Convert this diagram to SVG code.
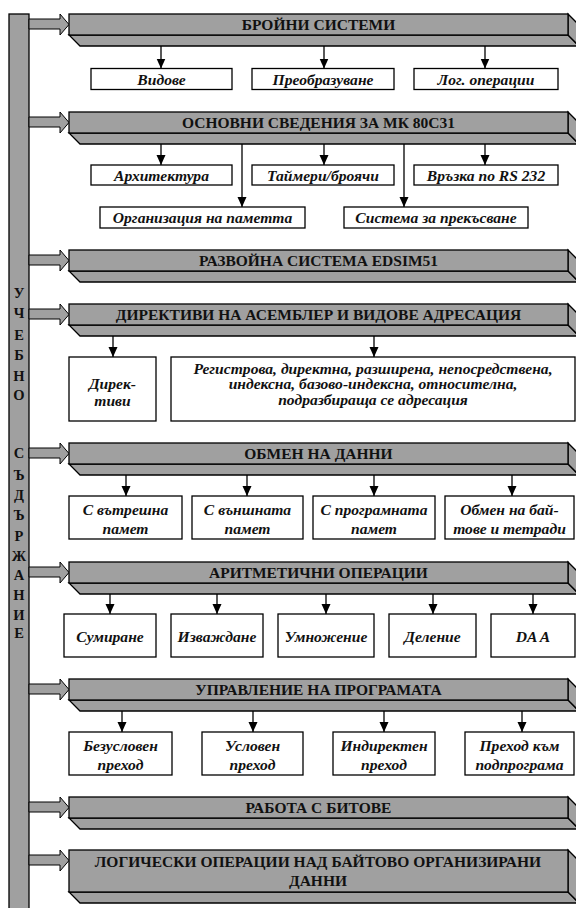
<svg xmlns="http://www.w3.org/2000/svg" width="576" height="908" viewBox="0 0 576 908">
<style>
.g{fill:#a0a0a0;stroke:#000;stroke-width:1.3;stroke-linejoin:miter}
.ba{fill:#a0a0a0;stroke:#000;stroke-width:1}
.bx{fill:#fff;stroke:#000;stroke-width:1.3}
.h{font-family:"Liberation Serif","Times New Roman",serif;font-weight:bold;font-size:15.5px;fill:#111;text-anchor:middle}
.t{font-family:"Liberation Serif","Times New Roman",serif;font-weight:bold;font-style:italic;font-size:15.6px;fill:#111;text-anchor:middle}
.v{font-family:"Liberation Serif","Times New Roman",serif;font-weight:bold;font-size:14.5px;fill:#111;text-anchor:middle}
.c{stroke:#000;stroke-width:1.3;fill:none;marker-end:url(#ah)}
</style>
<defs>
<marker id="ah" markerUnits="userSpaceOnUse" markerWidth="10" markerHeight="10" refX="10" refY="4.5" orient="auto" viewBox="0 0 10 9">
<path d="M0,0 L10,4.5 L0,9 z" fill="#000"/>
</marker>
</defs>
<rect width="576" height="908" fill="#fff"/>

<g id="side">
<rect class="g" x="9" y="14" width="20" height="900"/>
<text class="v" x="19" y="298">У</text>
<text class="v" x="19" y="318">Ч</text>
<text class="v" x="19" y="340">Е</text>
<text class="v" x="19" y="360">Б</text>
<text class="v" x="19" y="381">Н</text>
<text class="v" x="19" y="400">О</text>
<text class="v" x="19" y="458">С</text>
<text class="v" x="19" y="480">Ъ</text>
<text class="v" x="19" y="500">Д</text>
<text class="v" x="19" y="520">Ъ</text>
<text class="v" x="19" y="541">Р</text>
<text class="v" x="19" y="561">Ж</text>
<text class="v" x="19" y="580">А</text>
<text class="v" x="19" y="600">Н</text>
<text class="v" x="19" y="620">И</text>
<text class="v" x="19" y="638">Е</text>
</g>

<g id="h1">
<polygon class="ba" points="29,19 60,19 60,14 69,24.5 60,35 60,29 29,29"/>
<polygon class="g" points="69,35 568,35 579,46 80,46"/>
<polygon class="g" points="568,14 579,25 579,46 568,35"/>
<rect class="g" x="69" y="14" width="499" height="21"/>
<text class="h" x="318.5" y="30">БРОЙНИ СИСТЕМИ</text>
</g>
<g id="h2">
<polygon class="ba" points="29,117 60,117 60,112 69,122.5 60,133 60,127 29,127"/>
<polygon class="g" points="69,133 568,133 579,144 80,144"/>
<polygon class="g" points="568,112 579,123 579,144 568,133"/>
<rect class="g" x="69" y="112" width="499" height="21"/>
<text class="h" x="318.5" y="128">ОСНОВНИ СВЕДЕНИЯ ЗА МК 80С31</text>
</g>
<g id="h3">
<polygon class="ba" points="29,255 60,255 60,250 69,260.5 60,271 60,265 29,265"/>
<polygon class="g" points="69,271 568,271 579,282 80,282"/>
<polygon class="g" points="568,250 579,261 579,282 568,271"/>
<rect class="g" x="69" y="250" width="499" height="21"/>
<text class="h" x="318.5" y="266">РАЗВОЙНА СИСТЕМА EDSIM51</text>
</g>
<g id="h4">
<polygon class="ba" points="29,309 60,309 60,304 69,314.5 60,325 60,319 29,319"/>
<polygon class="g" points="69,325 568,325 579,336 80,336"/>
<polygon class="g" points="568,304 579,315 579,336 568,325"/>
<rect class="g" x="69" y="304" width="499" height="21"/>
<text class="h" x="318.5" y="320">ДИРЕКТИВИ НА АСЕМБЛЕР И ВИДОВЕ АДРЕСАЦИЯ</text>
</g>
<g id="h5">
<polygon class="ba" points="29,448 60,448 60,443 69,453.5 60,464 60,458 29,458"/>
<polygon class="g" points="69,464 568,464 579,475 80,475"/>
<polygon class="g" points="568,443 579,454 579,475 568,464"/>
<rect class="g" x="69" y="443" width="499" height="21"/>
<text class="h" x="318.5" y="459">ОБМЕН НА ДАННИ</text>
</g>
<g id="h6">
<polygon class="ba" points="29,567 60,567 60,562 69,572.5 60,583 60,577 29,577"/>
<polygon class="g" points="69,583 568,583 579,594 80,594"/>
<polygon class="g" points="568,562 579,573 579,594 568,583"/>
<rect class="g" x="69" y="562" width="499" height="21"/>
<text class="h" x="318.5" y="578">АРИТМЕТИЧНИ ОПЕРАЦИИ</text>
</g>
<g id="h7">
<polygon class="ba" points="29,684 60,684 60,679 69,689.5 60,700 60,694 29,694"/>
<polygon class="g" points="69,700 568,700 579,711 80,711"/>
<polygon class="g" points="568,679 579,690 579,711 568,700"/>
<rect class="g" x="69" y="679" width="499" height="21"/>
<text class="h" x="318.5" y="695">УПРАВЛЕНИЕ НА ПРОГРАМАТА</text>
</g>
<g id="h8">
<polygon class="ba" points="29,802 60,802 60,797 69,807.5 60,818 60,812 29,812"/>
<polygon class="g" points="69,818 568,818 579,829 80,829"/>
<polygon class="g" points="568,797 579,808 579,829 568,818"/>
<rect class="g" x="69" y="797" width="499" height="21"/>
<text class="h" x="318.5" y="813">РАБОТА С БИТОВЕ</text>
</g>
<g id="h9">
<polygon class="ba" points="29,855 60,855 60,850 69,860.5 60,871 60,865 29,865"/>
<polygon class="g" points="69,892 568,892 579,903 80,903"/>
<polygon class="g" points="568,850 579,861 579,903 568,892"/>
<rect class="g" x="69" y="850" width="499" height="42"/>
<text class="h" x="318" y="867">ЛОГИЧЕСКИ ОПЕРАЦИИ НАД БАЙТОВО ОРГАНИЗИРАНИ</text>
<text class="h" x="318" y="885.5">ДАННИ</text>
</g>

<g id="connectors">
<line class="c" x1="161" y1="46" x2="161" y2="68.5"/>
<line class="c" x1="324" y1="46" x2="324" y2="68.5"/>
<line class="c" x1="485" y1="46" x2="485" y2="68.5"/>
<line class="c" x1="161" y1="144" x2="161" y2="165"/>
<line class="c" x1="324" y1="144" x2="324" y2="165"/>
<line class="c" x1="485" y1="144" x2="485" y2="165"/>
<line class="c" x1="242" y1="144" x2="242" y2="207"/>
<line class="c" x1="404" y1="144" x2="404" y2="207"/>
<line class="c" x1="113" y1="336" x2="113" y2="357"/>
<line class="c" x1="374" y1="336" x2="374" y2="357"/>
<line class="c" x1="126" y1="475" x2="126" y2="496"/>
<line class="c" x1="247" y1="475" x2="247" y2="496"/>
<line class="c" x1="374" y1="475" x2="374" y2="496"/>
<line class="c" x1="512" y1="475" x2="512" y2="496"/>
<line class="c" x1="110" y1="594" x2="110" y2="614"/>
<line class="c" x1="217" y1="594" x2="217" y2="614"/>
<line class="c" x1="326" y1="594" x2="326" y2="614"/>
<line class="c" x1="433" y1="594" x2="433" y2="614"/>
<line class="c" x1="533" y1="594" x2="533" y2="614"/>
<line class="c" x1="122" y1="711" x2="122" y2="732"/>
<line class="c" x1="253" y1="711" x2="253" y2="732"/>
<line class="c" x1="384" y1="711" x2="384" y2="732"/>
<line class="c" x1="522" y1="711" x2="522" y2="732"/>
</g>

<g id="b1a"><rect class="bx" x="91" y="68.5" width="141" height="21"/><text class="t" x="161.5" y="84.5">Видове</text></g>
<g id="b1b"><rect class="bx" x="252" y="68.5" width="142" height="21"/><text class="t" x="323" y="84.5">Преобразуване</text></g>
<g id="b1c"><rect class="bx" x="414" y="68.5" width="144" height="21"/><text class="t" x="486" y="84.5">Лог. операции</text></g>

<g id="b2a"><rect class="bx" x="91" y="165" width="141" height="20"/><text class="t" x="161.5" y="180.5">Архитектура</text></g>
<g id="b2b"><rect class="bx" x="252" y="165" width="142" height="20"/><text class="t" x="323" y="180.5">Таймери/броячи</text></g>
<g id="b2c"><rect class="bx" x="414" y="165" width="144" height="20"/><text class="t" x="486" y="180.5">Връзка по RS 232</text></g>
<g id="b2d"><rect class="bx" x="100" y="207" width="205" height="21"/><text class="t" x="202.5" y="223">Организация на паметта</text></g>
<g id="b2e"><rect class="bx" x="344" y="207" width="184" height="21"/><text class="t" x="436" y="223">Система за прекъсване</text></g>

<g id="b4a"><rect class="bx" x="69" y="357" width="87" height="64"/><text class="t" x="112.5" y="388.5">Дирек-</text><text class="t" x="112.5" y="405.5">тиви</text></g>
<g id="b4b"><rect class="bx" x="171" y="357" width="404" height="64"/>
<text class="t" x="373" y="373.5">Регистрова, директна, разширена, непосредствена,</text>
<text class="t" x="373" y="389">индексна, базово-индексна, относителна,</text>
<text class="t" x="373" y="404.5">подразбираща се адресация</text></g>

<g id="b5a"><rect class="bx" x="69" y="496" width="113" height="43"/><text class="t" x="125.5" y="514.5">С вътрешна</text><text class="t" x="125.5" y="533.5">памет</text></g>
<g id="b5b"><rect class="bx" x="192" y="496" width="111" height="43"/><text class="t" x="247.5" y="514.5">С външната</text><text class="t" x="247.5" y="533.5">памет</text></g>
<g id="b5c"><rect class="bx" x="313" y="496" width="122" height="43"/><text class="t" x="374" y="514.5">С програмната</text><text class="t" x="374" y="533.5">памет</text></g>
<g id="b5d"><rect class="bx" x="445" y="496" width="129" height="43"/><text class="t" x="509.5" y="514.5">Обмен на бай-</text><text class="t" x="509.5" y="533.5">тове и тетради</text></g>

<g id="b6a"><rect class="bx" x="64" y="614" width="92" height="43"/><text class="t" x="110" y="642">Сумиране</text></g>
<g id="b6b"><rect class="bx" x="171" y="614" width="92" height="43"/><text class="t" x="217" y="642">Изваждане</text></g>
<g id="b6c"><rect class="bx" x="278" y="614" width="96" height="43"/><text class="t" x="326" y="642">Умножение</text></g>
<g id="b6d"><rect class="bx" x="389" y="614" width="87" height="43"/><text class="t" x="432.5" y="642">Деление</text></g>
<g id="b6e"><rect class="bx" x="491" y="614" width="84" height="43"/><text class="t" x="533" y="642">DA A</text></g>

<g id="b7a"><rect class="bx" x="69" y="732" width="103" height="43"/><text class="t" x="120.5" y="750.5">Безусловен</text><text class="t" x="120.5" y="769.5">преход</text></g>
<g id="b7b"><rect class="bx" x="202" y="732" width="101" height="43"/><text class="t" x="252.5" y="750.5">Условен</text><text class="t" x="252.5" y="769.5">преход</text></g>
<g id="b7c"><rect class="bx" x="333" y="732" width="102" height="43"/><text class="t" x="384" y="750.5">Индиректен</text><text class="t" x="384" y="769.5">преход</text></g>
<g id="b7d"><rect class="bx" x="465" y="732" width="109" height="43"/><text class="t" x="519.5" y="750.5">Преход към</text><text class="t" x="519.5" y="769.5">подпрограма</text></g>
</svg>
